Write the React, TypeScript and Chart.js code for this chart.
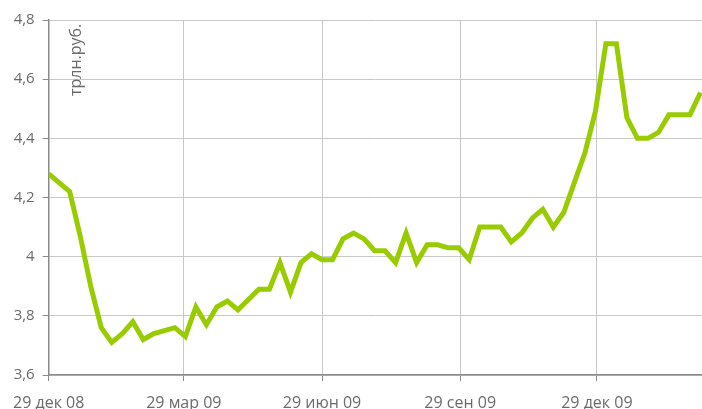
import React, { useEffect, useRef } from "react";
import { Chart, registerables } from "chart.js";

Chart.register(...registerables);

// Week offsets (days since 29 Dec 2008) and values, трлн. руб.
const dayOffsets: number[] = [
  0, 14, 21, 28, 35, 42, 49, 56, 63, 70, 77, 84, 91, 98, 105, 112, 119, 126,
  133, 140, 147, 154, 161, 168, 175, 182, 189, 196, 203, 210, 217, 224, 231,
  238, 245, 252, 259, 266, 273, 280, 287, 294, 301, 308, 315, 322, 329, 336,
  343, 350, 357, 364, 371, 378, 385, 392, 399, 406, 413, 420, 427, 434,
];
const values: number[] = [
  4.28, 4.22, 4.07, 3.9, 3.76, 3.71, 3.74, 3.78, 3.72, 3.74, 3.75, 3.76, 3.73,
  3.83, 3.77, 3.83, 3.85, 3.82, 3.855, 3.89, 3.89, 3.98, 3.88, 3.98, 4.01, 3.99,
  3.99, 4.06, 4.08, 4.06, 4.02, 4.02, 3.98, 4.08, 3.98, 4.04, 4.04, 4.03, 4.03,
  3.99, 4.1, 4.1, 4.1, 4.05, 4.08, 4.13, 4.16, 4.1, 4.15, 4.25, 4.35, 4.49, 4.72,
  4.72, 4.47, 4.4, 4.4, 4.42, 4.48, 4.48, 4.48, 4.555,
];
const xTickDays: number[] = [0, 90, 182, 274, 365];
const xTickLabels: string[] = ["29 дек 08", "29 мар 09", "29 июн 09", "29 сен 09", "29 дек 09"];
const yUnitLabel = "трлн.руб.";

const FONT = "'Open Sans', 'Noto Sans', sans-serif";
const TEXT_COLOR = "#6b6b6b";

export default function App() {
  const ref = useRef<HTMLCanvasElement | null>(null);

  useEffect(() => {
    if (!ref.current) return;
    const unitPlugin = {
      id: "unitLabel",
      afterDraw(chart: any) {
        const ctx = chart.ctx;
        ctx.save();
        ctx.translate(chart.chartArea.left + 32, chart.chartArea.top + 76);
        ctx.rotate(-Math.PI / 2);
        ctx.font = `16px ${FONT}`;
        ctx.fillStyle = TEXT_COLOR;
        ctx.textAlign = "left";
        ctx.textBaseline = "alphabetic";
        ctx.fillText(yUnitLabel, 0, 0);
        ctx.restore();
      },
    };
    const chart = new Chart(ref.current, {
      type: "line",
      data: {
        datasets: [
          {
            data: dayOffsets.map((d, i) => ({ x: d, y: values[i] })),
            borderColor: "#99cc00",
            borderWidth: 5,
            pointRadius: 0,
            tension: 0,
            fill: false,
          },
        ],
      },
      options: {
        animation: false,
        responsive: false,
        layout: { padding: { top: 20, right: 0, left: 0, bottom: 0 } },
        plugins: { legend: { display: false }, tooltip: { enabled: false } },
        scales: {
          x: {
            type: "linear",
            min: 0,
            max: 435,
            afterFit: (s: any) => {
              s.height = 34;
            },
            afterBuildTicks: (s: any) => {
              s.ticks = xTickDays.map((v) => ({ value: v }));
            },
            ticks: {
              autoSkip: false,
              maxRotation: 0,
              padding: 13,
              color: TEXT_COLOR,
              font: { family: FONT, size: 16 },
              callback: (v: any) => {
                const i = xTickDays.indexOf(Number(v));
                return i >= 0 ? xTickLabels[i] : "";
              },
            },
            grid: { color: "#c8c8c8", lineWidth: 1, tickColor: "#8a8a8a", tickLength: 6 },
            border: { color: "#8a8a8a", width: 1.5 },
          },
          y: {
            min: 3.6,
            max: 4.8,
            afterFit: (s: any) => {
              s.width = 48;
            },
            ticks: {
              stepSize: 0.2,
              padding: 8,
              color: TEXT_COLOR,
              font: { family: FONT, size: 15 },
              callback: (v: any) => String(Math.round(Number(v) * 10) / 10).replace(".", ","),
            },
            grid: { color: "#c8c8c8", lineWidth: 1, tickColor: "#8a8a8a", tickLength: 6 },
            border: { color: "#8a8a8a", width: 1.5 },
          },
        },
      },
      plugins: [unitPlugin],
    });
    return () => chart.destroy();
  }, []);

  return (
    <div style={{ position: "fixed", left: 0, top: 0, width: 702, height: 409, background: "#fff" }}>
      <canvas ref={ref} width={702} height={409} style={{ width: 702, height: 409, display: "block" }} />
    </div>
  );
}
